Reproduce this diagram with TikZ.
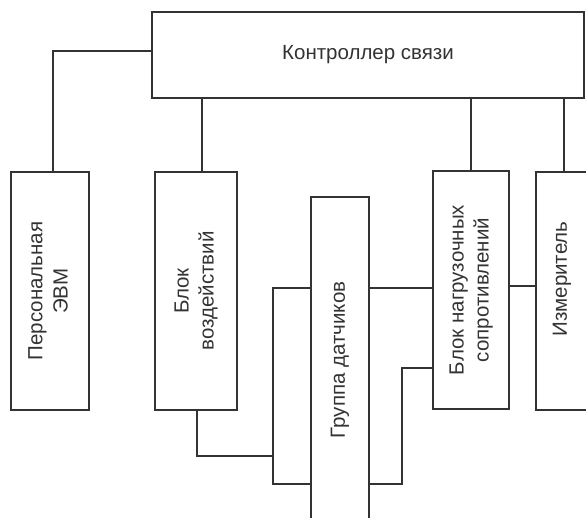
\documentclass[tikz,border=0pt]{standalone}
\usepackage{fontspec}
\setmainfont{Liberation Sans}
\usepackage{graphicx}
\definecolor{ink}{HTML}{333333}
\begin{document}
\begin{tikzpicture}[x=1pt,y=-1pt,
  box/.style={draw=ink, line width=1.2pt, fill=white, inner sep=0pt, text=ink,
    font=\fontsize{20.5}{25}\selectfont, align=center},
  wire/.style={draw=ink, line width=1.2pt}]
\useasboundingbox (0,0) rectangle (586,518);
\fill[white] (0,0) rectangle (586,518);
% boxes
\node[box, minimum width=432pt, minimum height=86pt] (top) at (368,55) {Контроллер связи};
\node[box, minimum width=78pt, minimum height=238pt] (pc) at (50,291)
  {\rotatebox{90}{\begin{tabular}{@{}c@{}}Персональная\\ЭВМ\end{tabular}}};
\node[box, minimum width=82pt, minimum height=238pt] (vb) at (196,291)
  {\rotatebox{90}{\begin{tabular}{@{}c@{}}Блок\\воздействий\end{tabular}}};
\node[box, minimum width=58pt, minimum height=326pt] (grp) at (340,360)
  {\rotatebox{90}{Группа датчиков}};
\node[box, minimum width=76pt, minimum height=238pt] (nb) at (471,290)
  {\rotatebox{90}{\begin{tabular}{@{}c@{}}Блок нагрузочных\\сопротивлений\end{tabular}}};
\node[box, minimum width=52pt, minimum height=238pt] (izm) at (562,291)
  {\rotatebox{90}{\hspace*{24pt}Измеритель}};
% bus coordinates
\coordinate (busT) at (273,288);
\coordinate (busB) at (273,484);
\coordinate (vbj) at (273,456);
\coordinate (nbj) at (402,368);
% connectors
\draw[wire] (top.west |- 0,51) -| (pc.north -| 53,0);
\draw[wire] (top.south -| 202,0) -- (vb.north -| 202,0);
\draw[wire] (top.south -| nb.north) -- (nb.north);
\draw[wire] (top.south -| 564,0) -- (izm.north -| 564,0);
\draw[wire] (vb.south -| 197,0) |- (vbj);
\draw[wire] (grp.west |- busT) -- (busT) -- (busB) -- (grp.west |- busB);
\draw[wire] (grp.east |- busT) -- (nb.west |- busT);
\draw[wire] (grp.east |- busB) -| (nbj) -- (nb.west |- nbj);
\draw[wire] (nb.east |- 0,286) -- (izm.west |- 0,286);
\end{tikzpicture}
\end{document}
